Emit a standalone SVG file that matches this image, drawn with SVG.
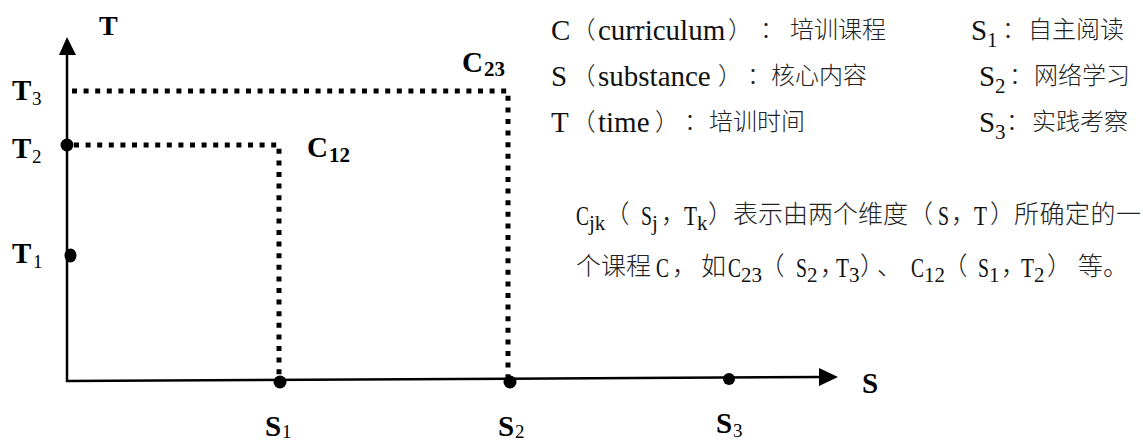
<svg xmlns="http://www.w3.org/2000/svg" width="1143" height="443" viewBox="0 0 1143 443">
<style>
.ax{stroke:#000;stroke-width:2.5;fill:none}
.dot{stroke:#000;stroke-width:5;stroke-dasharray:5 6.6;fill:none}
.lb{font-family:"Liberation Serif","Times New Roman",serif;font-weight:bold;font-size:29px;fill:#000}
.sb{font-family:"Liberation Serif","Times New Roman",serif;font-weight:normal;font-size:19px}
.sbb{font-size:21px}
.la{font-family:"Liberation Serif","Times New Roman",serif;font-size:29px;fill:#111}
.lp{font-family:"Liberation Serif","Times New Roman",serif;font-size:27px;fill:#111}
.ls{font-family:"Liberation Serif","Times New Roman",serif;font-size:21px;fill:#111}
.cj{font-family:"Noto Sans CJK SC",sans-serif;font-weight:300;font-size:24px;fill:#222;font-feature-settings:"halt"}
.cp{font-family:"Noto Sans CJK SC",sans-serif;font-weight:300;font-size:25px;fill:#222;font-feature-settings:"halt"}
</style>
<rect width="1143" height="443" fill="#fff"/>
<g id="connectors">
  <line class="ax" x1="67" y1="382" x2="67" y2="52"/>
  <polygon points="67,37 59,55 76,55" fill="#000"/>
  <line class="ax" x1="66" y1="381" x2="822" y2="377"/>
  <polygon points="838,377 819,368 819,386" fill="#000"/>
  <polyline class="dot" points="72,91 508,91 508,381"/>
  <polyline class="dot" points="74,145 279,145 279,381"/>
</g>
<g id="axis-T"><text class="lb" x="99" y="35" style="font-size:28px">T</text></g>
<g id="axis-S"><text class="lb" x="862" y="393">S</text></g>
<g id="T3"><text class="lb" x="12" y="100">T<tspan class="sb" x="32" y="105">3</tspan></text></g>
<g id="T2"><circle cx="67" cy="145" r="6.5"/><text class="lb" x="12" y="158">T<tspan class="sb" x="32" y="163">2</tspan></text></g>
<g id="T1"><ellipse cx="70.5" cy="255.5" rx="6" ry="7"/><text class="lb" x="12" y="263">T<tspan class="sb" x="33" y="268">1</tspan></text></g>
<g id="S1"><circle cx="280" cy="382" r="6.5"/><text class="lb" x="265" y="436">S<tspan class="sb" x="282" y="438">1</tspan></text></g>
<g id="S2"><circle cx="510" cy="382" r="6.5"/><text class="lb" x="498" y="436">S<tspan class="sb" x="515" y="438">2</tspan></text></g>
<g id="S3"><circle cx="729" cy="379" r="6"/><text class="lb" x="716" y="433">S<tspan class="sb" x="733" y="437">3</tspan></text></g>
<g id="C12"><text class="lb" x="307" y="157">C<tspan class="sbb" x="329" y="162">12</tspan></text></g>
<g id="C23"><text class="lb" x="462" y="72">C<tspan class="sbb" x="484" y="76">23</tspan></text></g>
<g id="legend">
  <text class="la" x="551" y="40">C<tspan class="cj" x="583.5" y="38">（</tspan><tspan x="598" y="40">curriculum</tspan><tspan class="cj" x="728" y="38">）</tspan><tspan class="cj" x="760" y="38">：</tspan><tspan class="cj" x="790" y="38">培训课程</tspan></text>
  <text class="la" x="551" y="86">S<tspan class="cj" x="583.5" y="84">（</tspan><tspan x="598" y="86">substance</tspan><tspan class="cj" x="718" y="84">）</tspan><tspan class="cj" x="747" y="84">：</tspan><tspan class="cj" x="771" y="84">核心内容</tspan></text>
  <text class="la" x="551" y="132">T<tspan class="cj" x="583.5" y="130">（</tspan><tspan x="598" y="132">time</tspan><tspan class="cj" x="655" y="130">）</tspan><tspan class="cj" x="684" y="130">：</tspan><tspan class="cj" x="709" y="130">培训时间</tspan></text>
  <text class="la" x="971" y="40">S<tspan class="ls" x="987" y="47">1</tspan><tspan class="cj" x="1002" y="38">：</tspan><tspan class="cj" x="1028" y="38">自主阅读</tspan></text>
  <text class="la" x="979" y="86">S<tspan class="ls" x="995" y="93">2</tspan><tspan class="cj" x="1009" y="84">：</tspan><tspan class="cj" x="1034" y="84">网络学习</tspan></text>
  <text class="la" x="979" y="132">S<tspan class="ls" x="995" y="139">3</tspan><tspan class="cj" x="1006" y="130">：</tspan><tspan class="cj" x="1032" y="130">实践考察</tspan></text>
</g>
<g id="note">
  <text class="lp" x="576" y="225"><tspan textLength="13" lengthAdjust="spacingAndGlyphs">C</tspan><tspan class="ls" x="589" y="230">jk</tspan><tspan class="cp" x="617" y="223">（</tspan><tspan x="641" y="225" textLength="11" lengthAdjust="spacingAndGlyphs">S</tspan><tspan class="ls" x="652" y="230">j</tspan><tspan class="cp" x="661" y="223">，</tspan><tspan x="684" y="225" textLength="13" lengthAdjust="spacingAndGlyphs">T</tspan><tspan class="ls" x="697" y="230">k</tspan><tspan class="cp" x="708" y="223">）</tspan><tspan class="cp" x="733" y="223">表示由两个维度</tspan><tspan class="cp" x="920.5" y="223">（</tspan><tspan x="938" y="225" textLength="11" lengthAdjust="spacingAndGlyphs">S</tspan><tspan class="cp" x="951" y="223">，</tspan><tspan x="974" y="225" textLength="13" lengthAdjust="spacingAndGlyphs">T</tspan><tspan class="cp" x="990" y="223">）</tspan><tspan class="cp" x="1014" y="223" letter-spacing="0.5">所确定的一</tspan></text>
  <text class="cp" x="576" y="275">个课程<tspan class="lp" x="656" y="277" textLength="13" lengthAdjust="spacingAndGlyphs">C</tspan><tspan x="672" y="275">，</tspan><tspan x="701" y="275">如</tspan><tspan class="lp" x="728" y="277" textLength="13" lengthAdjust="spacingAndGlyphs">C</tspan><tspan class="ls" x="741" y="282">23</tspan><tspan x="772" y="275">（</tspan><tspan class="lp" x="796" y="277" textLength="11" lengthAdjust="spacingAndGlyphs">S</tspan><tspan class="ls" x="807" y="282">2</tspan><tspan x="820" y="275">，</tspan><tspan class="lp" x="836" y="277" textLength="13" lengthAdjust="spacingAndGlyphs">T</tspan><tspan class="ls" x="849" y="282">3</tspan><tspan x="860" y="275">）</tspan><tspan x="877" y="275">、</tspan><tspan class="lp" x="911" y="277" textLength="13" lengthAdjust="spacingAndGlyphs">C</tspan><tspan class="ls" x="924" y="282">12</tspan><tspan x="955" y="275">（</tspan><tspan class="lp" x="978" y="277" textLength="11" lengthAdjust="spacingAndGlyphs">S</tspan><tspan class="ls" x="989" y="282">1</tspan><tspan x="1001" y="275">，</tspan><tspan class="lp" x="1021" y="277" textLength="13" lengthAdjust="spacingAndGlyphs">T</tspan><tspan class="ls" x="1034" y="282">2</tspan><tspan x="1047" y="275">）</tspan><tspan x="1078" y="275">等。</tspan></text>
</g>
</svg>
